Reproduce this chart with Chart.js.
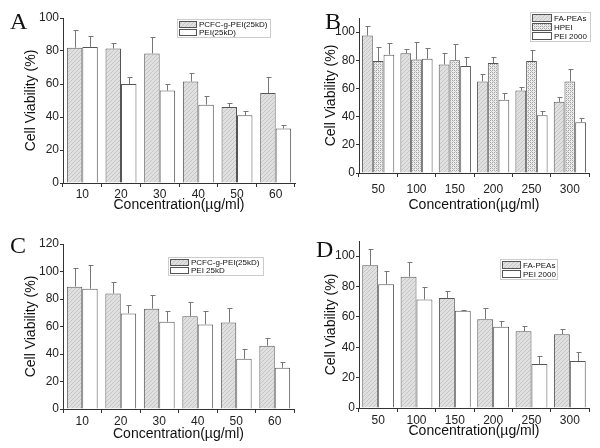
<!DOCTYPE html>
<html>
<head>
<meta charset="utf-8">
<script src="https://cdn.jsdelivr.net/npm/chart.js@4/dist/chart.umd.min.js"></script>
<style>
  body { margin: 0; background: #fff; width: 600px; height: 448px; position: relative; overflow: hidden; }
  .panel { position: absolute; width: 300px; height: 224px; }
  .letter { position: absolute; font-family: "Liberation Serif", "Times New Roman", serif; font-size: 24px; line-height: 1; color: #111; }
</style>
</head>
<body>
<div class="panel" style="left:0;top:0"><canvas id="chartA" width="300" height="224"></canvas></div>
<div class="panel" style="left:300px;top:0"><canvas id="chartB" width="300" height="224"></canvas></div>
<div class="panel" style="left:0;top:224px"><canvas id="chartC" width="300" height="224"></canvas></div>
<div class="panel" style="left:300px;top:224px"><canvas id="chartD" width="300" height="224"></canvas></div>
<div class="letter" style="left:10px;top:9px">A</div>
<div class="letter" style="left:325px;top:9px">B</div>
<div class="letter" style="left:10px;top:233px">C</div>
<div class="letter" style="left:316px;top:237px">D</div>
<script>
// panel A
var concA = ['10', '20', '30', '40', '50', '60'];
var pcfcA = [82, 81.5, 78.5, 61.5, 46, 54.5];
var pcfcAErr = [11, 3.5, 10, 5, 2.5, 10];
var peiA = [82.5, 60, 56, 47.5, 41, 33];
var peiAErr = [6.5, 4.5, 4, 5, 2.5, 2];

// panel B
var concB = ['50', '100', '150', '200', '250', '300'];
var faB = [97.5, 85, 77, 65, 58.5, 50.5];
var faBErr = [6.5, 3, 8, 5, 2.5, 3.5];
var hpeiB = [79.5, 80.5, 80, 78, 79.5, 65];
var hpeiBErr = [10, 12.5, 11.5, 4, 7.5, 8.5];
var peiB = [84, 81, 76, 52, 41, 36];
var peiBErr = [8, 7.5, 6, 5, 3, 3];

// panel C
var concC = ['10', '20', '30', '40', '50', '60'];
var pcfcC = [89, 84, 73, 67.5, 63, 46];
var pcfcCErr = [13.5, 8.5, 10, 10, 10.5, 6];
var peiC = [87.5, 69.5, 63.5, 61.5, 36.5, 30];
var peiCErr = [17.5, 6.5, 8, 10, 7, 4];

// panel D
var concD = ['50', '100', '150', '200', '250', '300'];
var faD = [94, 86.5, 72.5, 58.5, 50.5, 48.5];
var faDErr = [10.5, 9.5, 4.5, 7.5, 3.5, 3.5];
var peiD = [81.5, 71.5, 64, 53.5, 29, 31];
var peiDErr = [8.5, 8.5, 0.5, 4, 5, 6];

var FONT = '"Liberation Sans", Arial, sans-serif';

// fill patterns
function makePattern(kind) {
  var c = document.createElement('canvas');
  c.width = 4; c.height = 4;
  var g = c.getContext('2d');
  if (kind === 'hatch') {
    g.fillStyle = '#e0e0e0';
    g.fillRect(0, 0, 4, 4);
    g.fillStyle = '#c6c6c6';
    for (var i = 0; i < 4; i++) g.fillRect(i, 3 - i, 1, 1);
  } else if (kind === 'cross') {
    g.fillStyle = '#ececec';
    g.fillRect(0, 0, 4, 4);
    g.fillStyle = '#a4a4a4';
    g.fillRect(0, 0, 1, 1); g.fillRect(2, 2, 1, 1);
    g.fillRect(2, 0, 1, 1); g.fillRect(0, 2, 1, 1);
    g.fillStyle = '#c8c8c8';
    g.fillRect(1, 1, 1, 1); g.fillRect(3, 3, 1, 1);
  } else {
    g.fillStyle = '#ffffff';
    g.fillRect(0, 0, 4, 4);
  }
  return g.createPattern(c, 'repeat');
}
var hatchFill = makePattern('hatch');
var crossFill = makePattern('cross');
var whiteFill = '#ffffff';

var errorBars = {
  id: 'errorBars',
  afterDatasetsDraw: function (chart) {
    var ctx = chart.ctx, y = chart.scales.y;
    ctx.save();
    ctx.strokeStyle = '#777';
    ctx.lineWidth = 1;
    chart.data.datasets.forEach(function (ds, i) {
      var meta = chart.getDatasetMeta(i);
      meta.data.forEach(function (bar, j) {
        var top = Math.round(y.getPixelForValue(ds.data[j] + ds.errors[j])) + 0.5;
        var x = Math.round(bar.x) + 0.5;
        ctx.beginPath();
        ctx.moveTo(x, bar.y);
        ctx.lineTo(x, top);
        ctx.moveTo(x - 2, top);
        ctx.lineTo(x + 3, top);
        ctx.stroke();
      });
    });
    ctx.restore();
  }
};

var boxLegend = {
  id: 'boxLegend',
  afterDraw: function (chart, args, o) {
    var ctx = chart.ctx;
    var n = chart.data.datasets.length;
    ctx.save();
    ctx.strokeStyle = '#cccccc';
    ctx.lineWidth = 1;
    ctx.strokeRect(o.x + 0.5, o.y + 0.5, o.w, o.row * n + 2);
    chart.data.datasets.forEach(function (ds, i) {
      var ry = o.y + 2 + i * o.row;
      ctx.fillStyle = ds.backgroundColor;
      ctx.fillRect(o.x + 2, ry, o.sw, o.row - 2);
      ctx.strokeStyle = '#555';
      ctx.strokeRect(o.x + 2.5, ry + 0.5, o.sw, o.row - 2);
      ctx.fillStyle = '#111';
      ctx.font = '8px ' + FONT;
      ctx.textBaseline = 'middle';
      ctx.fillText(ds.label, o.x + o.sw + 5, ry + (o.row - 2) / 2 + 1);
    });
    ctx.restore();
  }
};

function bars(label, data, errors, fill) {
  return {
    label: label,
    data: data,
    errors: errors,
    backgroundColor: fill,
    borderColor: '#555',
    borderWidth: 1
  };
}

function panel(id, labels, datasets, p) {
  return new Chart(document.getElementById(id), {
    type: 'bar',
    data: { labels: labels, datasets: datasets },
    plugins: [errorBars, boxLegend],
    options: {
      responsive: false,
      animation: false,
      layout: { padding: { top: p.top, right: 300 - p.right, left: 0, bottom: 0 } },
      datasets: { bar: { categoryPercentage: p.cat, barPercentage: 1 } },
      plugins: {
        legend: { display: false },
        tooltip: { enabled: false },
        boxLegend: p.legend
      },
      scales: {
        x: {
          afterFit: function (s) { s.height = 224 - p.bottom; },
          grid: { drawOnChartArea: false, tickLength: 4, color: '#333' },
          border: { color: '#333', width: 1 },
          ticks: { color: '#222', padding: p.xPad, font: { family: FONT, size: 12 } },
          title: {
            display: true, text: 'Concentration(\u00b5g/ml)', color: '#111',
            font: { family: FONT, size: 14 }, padding: { top: 0, bottom: p.xTitle }
          }
        },
        y: {
          min: 0, max: p.max,
          afterFit: function (s) { s.width = p.left; },
          afterBuildTicks: function (s) {
            s.ticks = s.ticks.filter(function (t) { return t.value % p.step === 0; });
          },
          grid: { drawOnChartArea: false, tickLength: 3, color: '#333' },
          border: { color: '#333', width: 1 },
          ticks: { stepSize: p.step, color: '#222', padding: 1, font: { family: FONT, size: 12 } },
          title: {
            display: true, text: 'Cell Viability (%)', color: '#111',
            font: { family: FONT, size: 14 }, padding: { top: 23, bottom: 0 }
          }
        }
      }
    }
  });
}

panel('chartA', concA, [
  bars('PCFC-g-PEI(25kD)', pcfcA, pcfcAErr, hatchFill),
  bars('PEI(25kD)', peiA, peiAErr, whiteFill)
], { left: 63, right: 295, top: 18, bottom: 183, max: 100, step: 10, cat: 0.8, xPad: 0, xTitle: 10,
     legend: { x: 177, y: 19, w: 93, row: 8, sw: 17 } });

panel('chartB', concB, [
  bars('FA-PEAs', faB, faBErr, hatchFill),
  bars('HPEI', hpeiB, hpeiBErr, crossFill),
  bars('PEI 2000', peiB, peiBErr, whiteFill)
], { left: 59, right: 289, top: 18, bottom: 173, max: 110, step: 20, cat: 0.84, xPad: 5, xTitle: 10,
     legend: { x: 230, y: 12, w: 60, row: 9, sw: 19 } });

panel('chartC', concC, [
  bars('PCFC-g-PEI(25kD)', pcfcC, pcfcCErr, hatchFill),
  bars('PEI 25kD', peiC, peiCErr, whiteFill)
], { left: 63, right: 294, top: 20, bottom: 185, max: 120, step: 20, cat: 0.8, xPad: 1, xTitle: 5,
     legend: { x: 168, y: 33, w: 95, row: 8, sw: 18 } });

panel('chartD', concD, [
  bars('FA-PEAs', faD, faDErr, hatchFill),
  bars('PEI 2000', peiD, peiDErr, whiteFill)
], { left: 59, right: 289, top: 17, bottom: 184, max: 110, step: 20, cat: 0.83, xPad: 1, xTitle: 8,
     legend: { x: 200, y: 35, w: 57, row: 9, sw: 18 } });
</script>
</body>
</html>
